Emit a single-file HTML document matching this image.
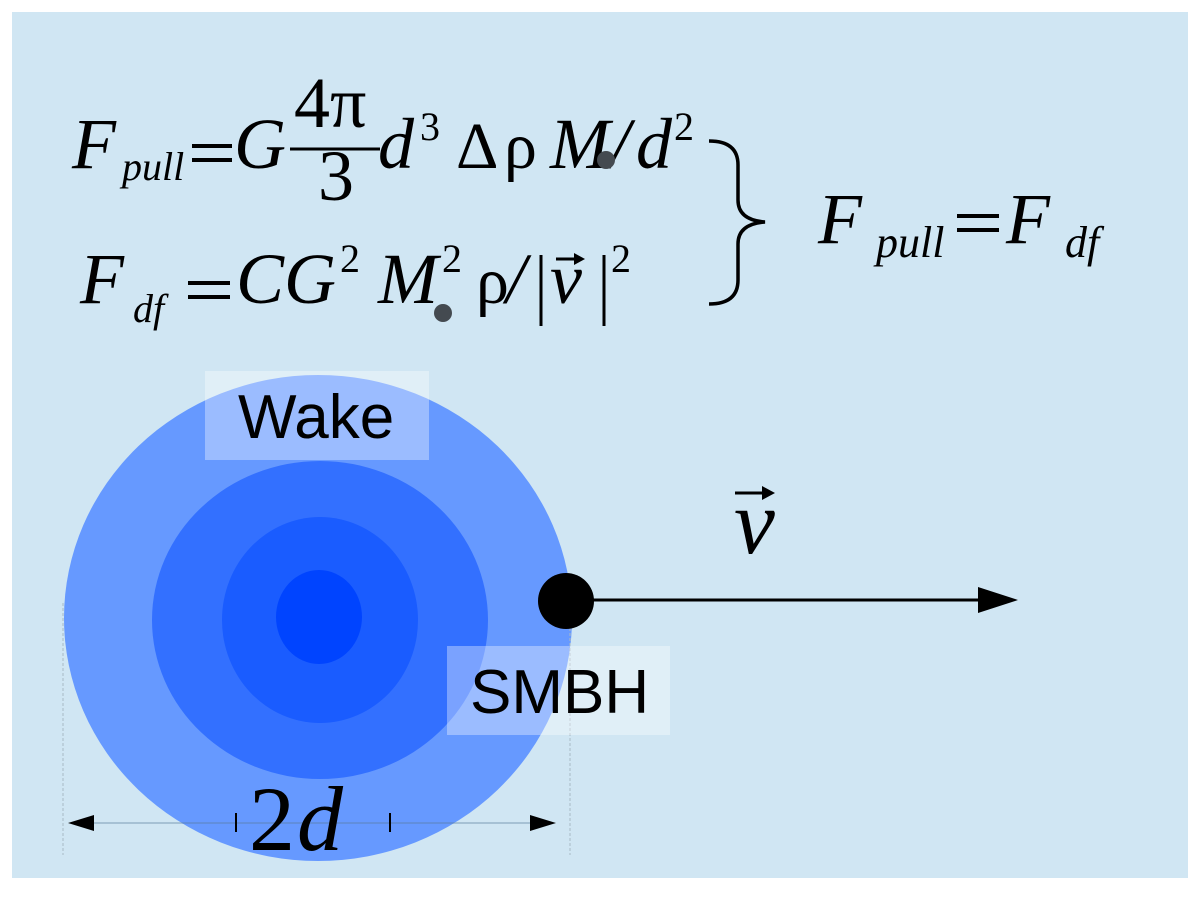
<!DOCTYPE html>
<html><head><meta charset="utf-8"><style>
html,body{margin:0;padding:0;background:#fff;}
svg{display:block;}
.s{font-family:"Liberation Serif",serif;}
.i{font-family:"Liberation Serif",serif;font-style:italic;}
.a{font-family:"Liberation Sans",sans-serif;}
</style></head><body>
<svg width="1200" height="898" viewBox="0 0 1200 898" xmlns="http://www.w3.org/2000/svg">
<rect x="12" y="12" width="1176" height="866" fill="#d0e6f3"/>
<!-- wake ellipses -->
<ellipse cx="318" cy="618" rx="254" ry="243" fill="#6699ff"/>
<ellipse cx="320" cy="620" rx="168" ry="159" fill="#3370ff"/>
<ellipse cx="320" cy="620" rx="98" ry="103" fill="#1a5cff"/>
<ellipse cx="319" cy="617" rx="43" ry="47" fill="#0044ff"/>
<!-- dimension guides -->
<line x1="63" y1="603" x2="63" y2="855" stroke="#a9b9c6" stroke-width="1" stroke-dasharray="3,2"/>
<line x1="570" y1="603" x2="570" y2="855" stroke="#a9b9c6" stroke-width="1" stroke-dasharray="3,2"/>
<!-- labels -->
<rect x="205" y="371" width="224" height="89" fill="#ffffff" fill-opacity="0.35"/>
<text x="238" y="438" class="a" font-size="62" fill="#000">Wake</text>
<rect x="447" y="646" width="223" height="89" fill="#ffffff" fill-opacity="0.35"/>
<text x="470" y="713" class="a" font-size="62" fill="#000">SMBH</text>
<!-- SMBH & velocity -->
<line x1="566" y1="600" x2="985" y2="600" stroke="#000" stroke-width="3"/>
<polygon points="978,587 1018,600 978,613" fill="#000"/>
<ellipse cx="566" cy="601" rx="28" ry="28" fill="#000"/>
<text x="734" y="553" class="i" font-size="92">v</text>
<line x1="735" y1="493" x2="764" y2="493" stroke="#000" stroke-width="3"/>
<polygon points="762,486 775,493 762,500" fill="#000"/>
<!-- dimension -->
<line x1="90" y1="823" x2="535" y2="823" stroke="#5a7a9a" stroke-opacity="0.35" stroke-width="2"/>
<polygon points="68,823 94,815 94,831" fill="#000"/>
<polygon points="556,823 530,815 530,831" fill="#000"/>
<line x1="236" y1="813" x2="236" y2="832" stroke="#000" stroke-width="2"/>
<line x1="390" y1="813" x2="390" y2="832" stroke="#000" stroke-width="2"/>
<text x="249" y="850" class="s" font-size="92">2</text>
<text x="297" y="850" class="i" font-size="92">d</text>
<!-- equation row 1 -->
<text x="72" y="168" class="i" font-size="72">F</text>
<text x="122" y="180" class="i" font-size="40">pull</text>
<rect x="192" y="144" width="40" height="4" fill="#000"/>
<rect x="192" y="158" width="40" height="4" fill="#000"/>
<text x="234" y="168" class="i" font-size="72">G</text>
<text x="294" y="127" class="s" font-size="72">4π</text>
<line x1="290" y1="149" x2="380" y2="149" stroke="#000" stroke-width="3"/>
<text x="318" y="200" class="s" font-size="72">3</text>
<text x="378" y="168" class="i" font-size="72">d</text>
<text x="420" y="140" class="s" font-size="40">3</text>
<text x="456" y="168" class="s" font-size="66">Δ</text>
<text x="504" y="168" class="s" font-size="66">ρ</text>
<text x="550" y="168" class="i" font-size="72">M</text>
<text x="610" y="168" class="i" font-size="72">/</text>
<circle cx="606" cy="160" r="9" fill="#444a50"/>
<text x="636" y="168" class="i" font-size="72">d</text>
<text x="674" y="140" class="s" font-size="40">2</text>
<!-- equation row 2 -->
<text x="80" y="303" class="i" font-size="72">F</text>
<text x="133" y="322" class="i" font-size="40">df</text>
<rect x="188" y="281" width="42" height="4" fill="#000"/>
<rect x="188" y="295" width="42" height="4" fill="#000"/>
<text x="236" y="303" class="i" font-size="72">C</text>
<text x="284" y="303" class="i" font-size="72">G</text>
<text x="340" y="272" class="s" font-size="40">2</text>
<text x="378" y="303" class="i" font-size="72">M</text>
<text x="442" y="272" class="s" font-size="40">2</text>
<circle cx="443" cy="313" r="9" fill="#444a50"/>
<text x="476" y="303" class="s" font-size="66">ρ</text>
<text x="506" y="303" class="i" font-size="72">/</text>
<line x1="541" y1="255" x2="541" y2="326" stroke="#000" stroke-width="3"/>
<text x="550" y="303" class="i" font-size="72">v</text>
<line x1="556" y1="259" x2="576" y2="259" stroke="#000" stroke-width="3"/>
<polygon points="574,253 585,259 574,265" fill="#000"/>
<line x1="604" y1="255" x2="604" y2="326" stroke="#000" stroke-width="3"/>
<text x="611" y="272" class="s" font-size="40">2</text>
<!-- brace -->
<path d="M709,141 Q738,141 738,165 L738,200 Q738,220 765,222 Q738,224 738,244 L738,280 Q738,304 709,304" fill="none" stroke="#000" stroke-width="3.5"/>
<!-- result -->
<text x="818" y="243" class="i" font-size="72">F</text>
<text x="876" y="257" class="i" font-size="44">pull</text>
<rect x="957" y="214" width="42" height="4" fill="#000"/>
<rect x="957" y="228" width="42" height="4" fill="#000"/>
<text x="1006" y="243" class="i" font-size="72">F</text>
<text x="1065" y="257" class="i" font-size="44">df</text>
</svg>
</body></html>
